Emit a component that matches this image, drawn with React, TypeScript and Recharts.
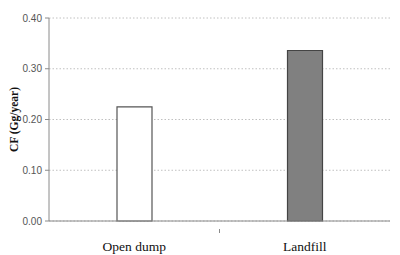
import { BarChart, Bar, XAxis, YAxis, CartesianGrid, Cell, Label } from "recharts";

const categories = ["Open dump", "Landfill"];
const cfValues = [0.225, 0.336];
const yTicks = [0, 0.1, 0.2, 0.3, 0.4];
const fills = ["#ffffff", "#808080"];
const strokes = ["#555555", "#444444"];

const data = categories.map((name, i) => ({ name, value: cfValues[i] }));

// category label, plus the Excel-style divider tick between the two categories
const CategoryTick = (props: any) => {
    const { x, y, payload, index } = props;
    const half = payload && payload.offset ? payload.offset : 85;
    return (
        <g>
            {index === 0 && (
                <line x1={x + half} x2={x + half} y1={y} y2={y + 4} stroke="#8a8a8a" />
            )}
            <text
                x={x}
                y={y + 22}
                textAnchor="middle"
                fill="#111"
                fontSize={13.5}
                fontFamily="Liberation Serif"
            >
                {payload.value}
            </text>
        </g>
    );
};

const App = () => {
    return (
        <div style={{ position: "absolute", left: 0, top: 0, width: 400, height: 255, background: "#fff" }}>
            <BarChart width={400} height={255} data={data} margin={{ top: 18, right: 10, bottom: 0, left: 0 }}>
                <CartesianGrid vertical={false} stroke="#c0c0c0" strokeDasharray="1.5 2" />
                <XAxis
                    dataKey="name"
                    height={34}
                    axisLine={{ stroke: "#8a8a8a" }}
                    tickLine={false}
                    tick={<CategoryTick />}
                />
                <YAxis
                    width={49}
                    domain={[0, 0.4]}
                    ticks={yTicks}
                    tickFormatter={(v) => Number(v).toFixed(2)}
                    axisLine={{ stroke: "#8a8a8a" }}
                    tickLine={{ stroke: "#8a8a8a" }}
                    tickSize={4}
                    tickMargin={3}
                    tick={{ fill: "#555", fontSize: 10, fontFamily: "Liberation Sans" }}
                >
                    <Label
                        value="CF (Gg/year)"
                        angle={-90}
                        position="insideLeft"
                        offset={14}
                        style={{ textAnchor: "middle", fill: "#111", fontSize: 11.5, fontFamily: "Liberation Serif", fontWeight: "bold" }}
                    />
                </YAxis>
                <Bar dataKey="value" barSize={35} isAnimationActive={false}>
                    {data.map((_, i) => (
                        <Cell key={`cell-${i}`} fill={fills[i]} stroke={strokes[i]} strokeWidth={1.2} />
                    ))}
                </Bar>
            </BarChart>
        </div>
    );
};

export default App;
